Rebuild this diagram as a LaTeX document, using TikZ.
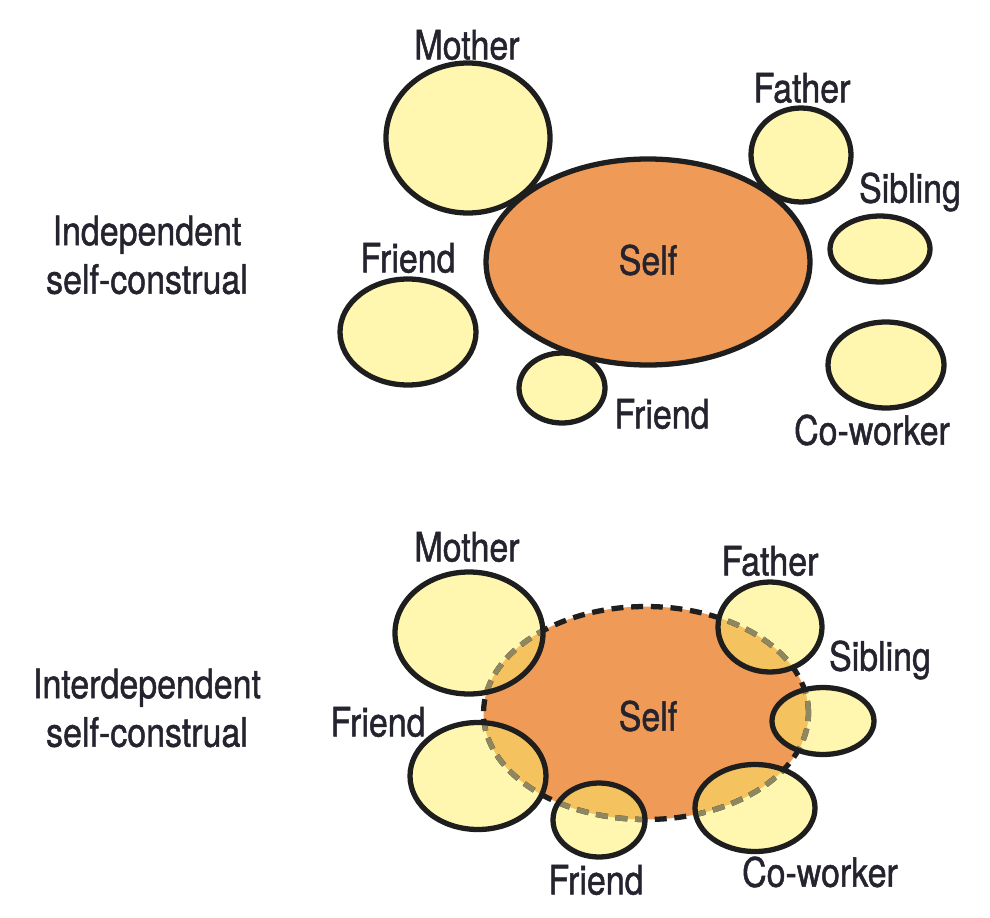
\documentclass[tikz,border=0pt]{standalone}
\usepackage{fontspec}
\setmainfont{TeX Gyre Heros}[FakeStretch=0.84,FakeBold=1.2]
\usepackage{xcolor}
\definecolor{self-orange}{HTML}{EF9A56}
\definecolor{other-yellow}{HTML}{FFF6B0}
\definecolor{overlap-gold}{HTML}{F4C25E}
\definecolor{ink}{HTML}{1E1E1E}
\definecolor{label-ink}{HTML}{25232E}
\definecolor{faded-ink}{HTML}{8F8760}

% ellipses of the interdependent self
\newcommand{\selfB}{(6.46,2.04) ellipse (1.625 and 1.065)}
\newcommand{\motherB}{(4.69,2.84) ellipse (0.74 and 0.61)}
\newcommand{\fatherB}{(7.70,2.90) ellipse (0.52 and 0.45)}
\newcommand{\siblingB}{(8.23,1.96) ellipse (0.51 and 0.335)}
\newcommand{\friendLB}{(4.78,1.41) ellipse (0.68 and 0.535)}
\newcommand{\friendBB}{(5.99,0.97) ellipse (0.46 and 0.37)}
\newcommand{\coworkerB}{(7.55,1.09) ellipse (0.60 and 0.435)}
\newcommand{\othersB}{\motherB \fatherB \siblingB \friendLB \friendBB \coworkerB}

\begin{document}
\begin{tikzpicture}[every node/.style={font=\fontsize{11.5}{13.8}\selectfont, text=label-ink},
  blob/.style={draw=ink, line width=1.5pt},
  self-dash/.style={draw=ink, line width=1.5pt, dash pattern=on 3.4pt off 2.2pt}]
  \useasboundingbox (0,0) rectangle (9.9,9.17);

  % independent self-construal
  \draw[blob, fill=self-orange] (6.48,6.55) ellipse (1.62 and 1.03);
  \draw[blob, fill=other-yellow] (4.68,7.79) ellipse (0.82 and 0.75);
  \draw[blob, fill=other-yellow] (8.01,7.62) ellipse (0.50 and 0.47);
  \draw[blob, fill=other-yellow] (8.80,6.68) ellipse (0.50 and 0.33);
  \draw[blob, fill=other-yellow] (4.08,5.85) ellipse (0.68 and 0.53);
  \draw[blob, fill=other-yellow] (5.62,5.29) ellipse (0.43 and 0.35);
  \draw[blob, fill=other-yellow] (8.86,5.52) ellipse (0.58 and 0.43);
  \node (self-a) at (6.48,6.57) {Self};
  \node (mother-a) at (4.67,8.72) {Mother};
  \node (father-a) at (8.02,8.29) {Father};
  \node (sibling-a) at (9.10,7.25) {Sibling};
  \node (friendl-a) at (4.08,6.59) {Friend};
  \node (friendb-a) at (6.62,5.03) {Friend};
  \node (coworker-a) at (8.72,4.87) {Co-worker};
  \node[align=center] (title-a) at (1.47,6.62) {Independent\\self-construal};

  % interdependent self-construal
  \fill[self-orange] \selfB;
  \fill[other-yellow] \othersB;
  \begin{scope}
    \clip \selfB;
    \fill[overlap-gold] \othersB;
  \end{scope}
  \draw[self-dash] \selfB;
  \begin{scope}
    \clip \othersB;
    \draw[self-dash, draw=faded-ink] \selfB;
  \end{scope}
  \draw[blob] \othersB;
  \node (self-b) at (6.48,2.01) {Self};
  \node (mother-b) at (4.67,3.70) {Mother};
  \node (father-b) at (7.70,3.56) {Father};
  \node (sibling-b) at (8.80,2.57) {Sibling};
  \node (friendl-b) at (3.78,1.95) {Friend};
  \node (friendb-b) at (5.96,0.37) {Friend};
  \node (coworker-b) at (8.20,0.45) {Co-worker};
  \node[align=center] (title-b) at (1.47,2.09) {Interdependent\\self-construal};
\end{tikzpicture}
\end{document}
